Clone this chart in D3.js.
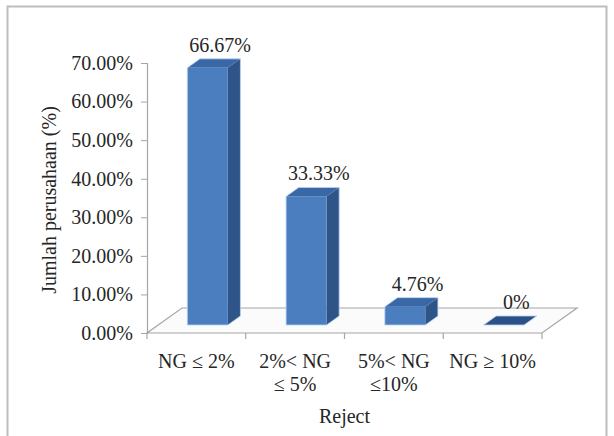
<!DOCTYPE html>
<html><head><meta charset="utf-8">
<script src="https://cdn.jsdelivr.net/npm/d3@7/dist/d3.min.js"></script>
<style>
html,body{margin:0;padding:0;background:#fff;}
svg{display:block;}
text{font-family:"Times New Roman","Liberation Serif",serif;fill:#262626;}
</style></head>
<body>
<svg id="chart" width="614" height="436"></svg>
<script>
// ---- data ----
const categories = ["NG ≤ 2%", "2%< NG ≤ 5%", "5%< NG ≤10%", "NG ≥ 10%"];
const categoryLines = [["NG ≤ 2%"], ["2%< NG", "≤ 5%"], ["5%< NG", "≤10%"], ["NG ≥ 10%"]];
const values = [0.6667, 0.3333, 0.0476, 0];
const dataLabels = ["66.67%", "33.33%", "4.76%", "0%"];
const yTicks = [0, 0.1, 0.2, 0.3, 0.4, 0.5, 0.6, 0.7];
const yTitle = "Jumlah perusahaan (%)";
const xTitle = "Reject";

// ---- layout ----
const svg = d3.select("#chart");
const plotL = 147, plotR = 542, plotB = 333, plotT = 63;
const depthX = 35, depthY = -25;       // floor depth projection
const barFront = 0.32, barBack = 0.68; // bar depth fractions
const x = d3.scaleBand().domain(categories).range([plotL, plotR]).paddingInner(0).paddingOuter(0);
const y = d3.scaleLinear().domain([0, 0.7]).range([plotB, plotT]);
const barW = x.bandwidth() * 0.41;
const fs = 20;
const ff = "'Times New Roman', 'Liberation Serif', serif";

// frame
svg.append("rect").attr("x", 7.5).attr("y", 6.5).attr("width", 599).attr("height", 445)
  .attr("fill", "#fff").attr("stroke", "#bdbdbd").attr("stroke-width", 2);

// floor
const floorColor = "#a6a6a6";
svg.append("path")
  .attr("d", `M${plotL},${plotB}L${plotR},${plotB}L${plotR+depthX},${plotB+depthY}L${plotL+depthX},${plotB+depthY}Z`)
  .attr("fill", "#fbfbfb").attr("stroke", floorColor).attr("stroke-width", 1.2);

// bars
const fx = depthX * barFront, fy = depthY * barFront;
const dx = depthX * (barBack - barFront), dy = depthY * (barBack - barFront);
const bars = svg.append("g");
categories.forEach((c, i) => {
  const x0 = x(c) + x.bandwidth() / 2 - barW / 2 + fx;
  const x1 = x0 + barW;
  const yb = y(0) + fy;
  const yt = y(values[i]) + fy;
  const g = bars.append("g");
  g.append("path").attr("d", `M${x1},${yt}L${x1+dx},${yt+dy}L${x1+dx},${yb+dy}L${x1},${yb}Z`)
    .attr("fill", "#2f5488");
  if (yb - yt > 0.5) {
    g.append("rect").attr("x", x0).attr("y", yt).attr("width", barW).attr("height", yb - yt)
      .attr("fill", "#4a7ebf");
  }
  g.append("path").attr("d", `M${x0},${yt}L${x0+dx},${yt+dy}L${x1+dx},${yt+dy}L${x1},${yt}Z`)
    .attr("fill", values[i] === 0 ? "#2c5189" : "#3a67a6");
  g.append("path").attr("d", `M${x0},${yb}L${x0},${yt}L${x0+dx},${yt+dy}L${x1+dx},${yt+dy}L${x1+dx},${yb+dy}L${x1},${yb}Z`)
    .attr("fill", "none").attr("stroke", "#b9d3f2").attr("stroke-width", 1).attr("stroke-opacity", 0.8);
  svg.append("text").attr("x", x0 + barW / 2 + dx).attr("y", yt + dy - 7)
    .attr("text-anchor", "middle").attr("font-size", fs).text(dataLabels[i]);
});

// y axis
const yAxis = svg.append("g").attr("transform", `translate(${plotL},0)`)
  .call(d3.axisLeft(y).tickValues(yTicks).tickFormat(d3.format(".2%")).tickSize(6).tickPadding(8));
yAxis.attr("font-family", ff).attr("font-size", fs);
yAxis.select(".domain").attr("stroke", floorColor).attr("stroke-width", 1.2);
yAxis.selectAll(".tick line").attr("stroke", floorColor);
yAxis.selectAll(".tick text").attr("fill", "#262626");

// x axis ticks
const bounds = categories.map(c => x(c)).concat([plotR]);
svg.append("g").selectAll("line").data(bounds).join("line")
  .attr("x1", d => d).attr("x2", d => d).attr("y1", plotB).attr("y2", plotB + 6)
  .attr("stroke", floorColor).attr("stroke-width", 1.2);

// x labels
categories.forEach((c, i) => {
  const cx = x(c) + x.bandwidth() / 2;
  const t = svg.append("text").attr("x", cx).attr("y", 368)
    .attr("text-anchor", "middle").attr("font-size", fs);
  categoryLines[i].forEach((ln, j) => {
    t.append("tspan").attr("x", cx).attr("dy", j === 0 ? 0 : 23).text(ln);
  });
});

// titles
svg.append("text").attr("x", (plotL + plotR) / 2).attr("y", 423).attr("text-anchor", "middle")
  .attr("font-size", fs).text(xTitle);
svg.append("text").attr("transform", `translate(56,200) rotate(-90)`).attr("text-anchor", "middle")
  .attr("font-size", fs).text(yTitle);
</script>
</body></html>
